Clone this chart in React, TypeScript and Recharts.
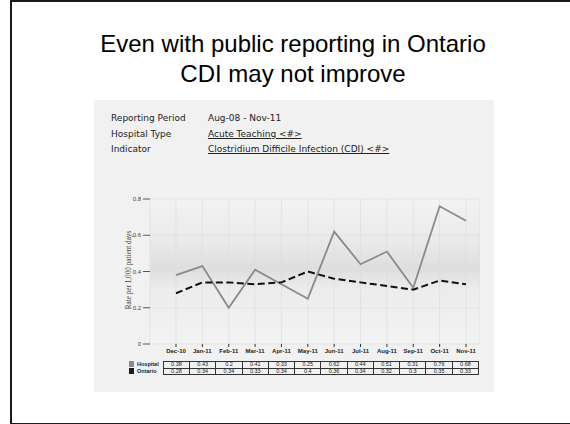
import { LineChart, Line, XAxis, YAxis, CartesianGrid } from 'recharts';

// CDI rate per 1,000 patient days, Dec-10 .. Nov-11
const months = ['Dec-10', 'Jan-11', 'Feb-11', 'Mar-11', 'Apr-11', 'May-11', 'Jun-11', 'Jul-11', 'Aug-11', 'Sep-11', 'Oct-11', 'Nov-11'];
const hospitalRates = [0.38, 0.43, 0.2, 0.41, 0.33, 0.25, 0.62, 0.44, 0.51, 0.31, 0.76, 0.68];
const ontarioRates = [0.28, 0.34, 0.34, 0.33, 0.34, 0.4, 0.36, 0.34, 0.32, 0.3, 0.35, 0.33];
const yTicks = [0, 0.2, 0.4, 0.6, 0.8];

const seriesNames = ['Hospital', 'Ontario'];
const seriesRows = [hospitalRates, ontarioRates];
const swatchColors = ['#8a8a8a', '#1c1c1c'];

const data = months.map((month, i) => ({
  month,
  hospital: hospitalRates[i],
  ontario: ontarioRates[i],
}));

// chart geometry (page coordinates)
const CHART_LEFT = 100;
const CHART_TOP = 190;
const Y_AXIS_W = 50;
const CHART_W = 380;
const PAD_L = 26;
const PAD_R = 14;
const step = (CHART_W - Y_AXIS_W - PAD_L - PAD_R) / (months.length - 1);
const tableLeft = CHART_LEFT + Y_AXIS_W + PAD_L - step / 2;

const sans = '"Liberation Sans", Arial, sans-serif';
const verdana = '"DejaVu Sans", Verdana, sans-serif';

const App = () => {
  return (
    <div style={{ position: 'absolute', left: 0, top: 0, width: 570, height: 424, background: '#fff', overflow: 'hidden' }}>
      {/* slide frame, open on the right */}
      <div style={{ position: 'absolute', left: 10, top: 0, width: 620, height: 421, borderLeft: '2px solid #1a1a1a', borderTop: '2px solid #1a1a1a', borderBottom: '2px solid #1a1a1a' }} />

      <div style={{ position: 'absolute', left: 0, top: 29, width: 586, textAlign: 'center', fontFamily: sans, fontSize: 24, lineHeight: '30px', color: '#000' }}>
        Even with public reporting in Ontario<br />CDI may not improve
      </div>

      <div style={{ position: 'absolute', left: 94, top: 100, width: 400, height: 292, background: '#f1f1f1' }} />

      <div style={{ position: 'absolute', left: 111, top: 111, fontFamily: verdana, fontSize: 9, lineHeight: '15.5px', color: '#222' }}>
        <div>Reporting Period</div>
        <div>Hospital Type</div>
        <div>Indicator</div>
      </div>
      <div style={{ position: 'absolute', left: 208, top: 111, fontFamily: verdana, fontSize: 9, lineHeight: '15.5px', color: '#222', whiteSpace: 'nowrap' }}>
        <div>Aug-08 - Nov-11</div>
        <div style={{ textDecoration: 'underline' }}>Acute Teaching &lt;#&gt;</div>
        <div style={{ textDecoration: 'underline' }}>Clostridium Difficile Infection (CDI) &lt;#&gt;</div>
      </div>

      <div style={{ position: 'absolute', left: 129 - 60, top: 270 - 5, width: 120, height: 10, transform: 'rotate(-90deg)', textAlign: 'center', fontFamily: '"Liberation Serif", serif', fontSize: 7.2, lineHeight: '10px', color: '#444', whiteSpace: 'nowrap' }}>
        Rate per 1,000 patient days
      </div>

      <div style={{ position: 'absolute', left: CHART_LEFT, top: CHART_TOP }}>
        <LineChart width={CHART_W} height={172} data={data} margin={{ top: 9, right: 0, bottom: 0, left: 0 }}>
          <defs>
            <linearGradient id="plotBg" x1="0" y1="0" x2="0" y2="1">
              <stop offset="0%" stopColor="#f3f3f3" />
              <stop offset="30%" stopColor="#e9e9e9" />
              <stop offset="48%" stopColor="#dedede" />
              <stop offset="62%" stopColor="#ececec" />
              <stop offset="100%" stopColor="#f3f3f3" />
            </linearGradient>
          </defs>
          <CartesianGrid stroke="#dcdcdc" strokeWidth={0.6} fill="url(#plotBg)" />
          <XAxis
            dataKey="month"
            interval={0}
            axisLine={false}
            tickSize={3}
            tickLine={{ stroke: '#333' }}
            padding={{ left: PAD_L, right: PAD_R }}
            height={18}
            tick={{ fontSize: 6, fill: '#222', fontFamily: sans, fontWeight: 600 }}
          />
          <YAxis
            width={Y_AXIS_W}
            domain={[0, 0.8]}
            ticks={yTicks}
            axisLine={false}
            tickSize={7}
            tickLine={{ stroke: '#555' }}
            tick={{ fontSize: 6, fill: '#444', fontFamily: sans }}
          />
          <Line type="linear" dataKey="hospital" stroke="#8a8a8a" strokeWidth={1.8} dot={false} isAnimationActive={false} />
          <Line type="linear" dataKey="ontario" stroke="#111" strokeWidth={2} strokeDasharray="7 3.5" dot={false} isAnimationActive={false} />
        </LineChart>
      </div>

      {/* legend swatches and names */}
      {seriesNames.map((name, r) => (
        <div key={name}>
          <div style={{ position: 'absolute', left: 129, top: 361 + r * 6.5, width: 5, height: 6, background: swatchColors[r] }} />
          <div style={{ position: 'absolute', left: 137, top: 361 + r * 6.5, fontFamily: sans, fontSize: 5.5, lineHeight: '6.5px', fontWeight: 700, color: '#222' }}>
            {name}
          </div>
        </div>
      ))}

      {/* value table under the categories */}
      <table style={{ position: 'absolute', left: tableLeft, top: 361, width: step * months.length, tableLayout: 'fixed', borderCollapse: 'collapse', fontFamily: sans, fontSize: 5.5, color: '#222' }}>
        <tbody>
          {seriesRows.map((row, r) => (
            <tr key={seriesNames[r]}>
              {row.map((v, i) => (
                <td key={months[i]} style={{ border: '1px solid #333', padding: 0, height: 5.5, lineHeight: '5.5px', textAlign: 'center' }}>
                  {v}
                </td>
              ))}
            </tr>
          ))}
        </tbody>
      </table>
    </div>
  );
};

export default App;
